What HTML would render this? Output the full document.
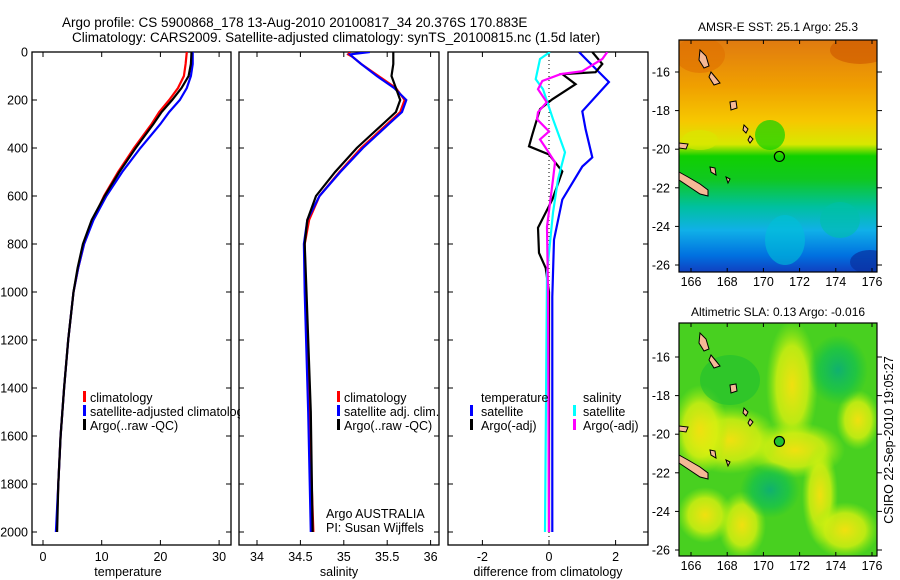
<!DOCTYPE html>
<html><head><meta charset="utf-8"><style>
body{margin:0;background:#fff;}
svg{display:block;font-family:"Liberation Sans",sans-serif;}
</style></head><body>
<svg id="fig" width="900" height="580" viewBox="0 0 900 580">
<defs>
<clipPath id="c1"><rect x="32" y="52" width="199" height="493"/></clipPath>
<clipPath id="c2"><rect x="239" y="52" width="200" height="493"/></clipPath>
<clipPath id="c3"><rect x="448" y="52" width="200" height="493"/></clipPath>
<clipPath id="cl1"><rect x="32" y="380" width="208" height="60"/></clipPath>
<clipPath id="m1"><rect x="679" y="40" width="198" height="232"/></clipPath>
<clipPath id="m2"><rect x="679" y="323" width="198" height="233"/></clipPath>
<linearGradient id="sst" x1="0" y1="0" x2="0" y2="1">
<stop offset="0" stop-color="#e07a10"/><stop offset="0.2" stop-color="#f0a000"/><stop offset="0.35" stop-color="#f6c800"/>
<stop offset="0.45" stop-color="#d8e800"/><stop offset="0.5" stop-color="#10d000"/><stop offset="0.6" stop-color="#10c820"/>
<stop offset="0.72" stop-color="#00c0a0"/><stop offset="0.82" stop-color="#10b0e8"/><stop offset="0.93" stop-color="#0070e0"/><stop offset="1" stop-color="#1040c0"/>
</linearGradient>
<radialGradient id="yb"><stop offset="0" stop-color="#f0e010"/><stop offset="0.6" stop-color="#d8f010" stop-opacity="0.8"/><stop offset="1" stop-color="#a0f010" stop-opacity="0"/></radialGradient>
<radialGradient id="gb"><stop offset="0" stop-color="#10b070"/><stop offset="0.6" stop-color="#10c050" stop-opacity="0.7"/><stop offset="1" stop-color="#10c040" stop-opacity="0"/></radialGradient>
</defs>

<text x="62" y="27" font-size="13.5">Argo profile: CS 5900868_178 13-Aug-2010 20100817_34 20.376S 170.883E</text>
<text x="72" y="42" font-size="13.5">Climatology: CARS2009. Satellite-adjusted climatology: synTS_20100815.nc (1.5d later)</text>

<g id="axes"></g>
<g id="series"></g>

<g font-size="12.5">
<g clip-path="url(#cl1)">
<rect x="83" y="391" width="3" height="11" fill="#f00"/><text x="90" y="402">climatology</text>
<rect x="83" y="405" width="3" height="11" fill="#00f"/><text x="90" y="416">satellite-adjusted climatology</text>
<rect x="83" y="419" width="3" height="11" fill="#000"/><text x="90" y="430">Argo(..raw -QC)</text>
</g></g>
<g font-size="12.5">
<rect x="337" y="391" width="3" height="11" fill="#f00"/><text x="344" y="402">climatology</text>
<rect x="337" y="405" width="3" height="11" fill="#00f"/><text x="344" y="416">satellite adj. clim.</text>
<rect x="337" y="419" width="3" height="11" fill="#000"/><text x="344" y="430">Argo(..raw -QC)</text>
<text x="326" y="518">Argo AUSTRALIA</text>
<text x="326" y="532">PI: Susan Wijffels</text>
</g>
<g font-size="12.5">
<text x="481" y="402">temperature</text>
<rect x="470" y="405" width="3" height="11" fill="#00f"/><text x="481" y="416">satellite</text>
<rect x="470" y="419" width="3" height="11" fill="#000"/><text x="481" y="430">Argo(-adj)</text>
<text x="583" y="402">salinity</text>
<rect x="573" y="405" width="3" height="11" fill="#0ff"/><text x="583" y="416">satellite</text>
<rect x="573" y="419" width="3" height="11" fill="#f0f"/><text x="583" y="430">Argo(-adj)</text>
</g>

<text x="778" y="31" font-size="12" text-anchor="middle">AMSR-E SST: 25.1 Argo: 25.3</text>
<g clip-path="url(#m1)">
<rect x="679" y="40" width="198" height="232" fill="url(#sst)"/>
<ellipse cx="860" cy="50" rx="30" ry="14" fill="#d05c00" opacity="0.7"/>
<ellipse cx="700" cy="55" rx="25" ry="18" fill="#e07000" opacity="0.6"/>
<ellipse cx="785" cy="240" rx="20" ry="25" fill="#00c0d8" opacity="0.6"/>
<ellipse cx="840" cy="220" rx="20" ry="18" fill="#00c0a8" opacity="0.6"/>
<ellipse cx="770" cy="135" rx="15" ry="15" fill="#10d000" opacity="0.7"/>
<ellipse cx="700" cy="140" rx="18" ry="10" fill="#d8e800" opacity="0.6"/>
<ellipse cx="870" cy="262" rx="20" ry="12" fill="#0830a0" opacity="0.7"/>
</g>
<g id="map1ov"></g>

<text x="778" y="316" font-size="12" text-anchor="middle">Altimetric SLA: 0.13 Argo: -0.016</text>
<g clip-path="url(#m2)">
<rect x="679" y="323" width="198" height="233" fill="#48d020"/>
<ellipse cx="792" cy="385" rx="26" ry="65" fill="url(#yb)"/>
<ellipse cx="795" cy="450" rx="50" ry="28" fill="url(#yb)"/>
<ellipse cx="730" cy="440" rx="50" ry="34" fill="url(#yb)"/>
<ellipse cx="700" cy="430" rx="28" ry="45" fill="url(#yb)"/>
<ellipse cx="742" cy="525" rx="24" ry="34" fill="url(#yb)"/>
<ellipse cx="705" cy="515" rx="28" ry="28" fill="url(#yb)"/>
<ellipse cx="820" cy="495" rx="18" ry="50" fill="url(#yb)"/>
<ellipse cx="845" cy="530" rx="34" ry="28" fill="url(#yb)"/>
<ellipse cx="858" cy="420" rx="22" ry="30" fill="url(#yb)"/>
<ellipse cx="770" cy="490" rx="30" ry="28" fill="url(#gb)"/>
<ellipse cx="838" cy="370" rx="30" ry="35" fill="url(#gb)"/>
<ellipse cx="730" cy="380" rx="30" ry="25" fill="#20c030" opacity="0.6"/>
</g>
<g id="map2ov"></g>

<text transform="translate(893,440) rotate(-90)" font-size="12.5" text-anchor="middle">CSIRO 22-Sep-2010 19:05:27</text>

<script>
const tempDepth = [0,50,100,150,200,250,300,400,500,600,700,800,900,1000,1200,1400,1600,1800,2000];
const tempClim  = [24.5,24.3,24.0,23.0,21.5,19.8,18.5,15.5,12.8,10.4,8.5,7.0,6.0,5.2,4.3,3.6,3.0,2.6,2.3];
const tempSat   = [25.5,25.5,25.2,24.5,23.3,21.5,20.0,16.6,13.5,10.8,8.6,7.0,6.0,5.2,4.3,3.6,3.0,2.6,2.2];
const tempArgo  = [25.3,25.2,24.8,23.6,22.0,20.2,18.8,15.8,13.0,10.5,8.3,6.8,5.9,5.2,4.3,3.6,3.0,2.6,2.4];
const salDepth  = [0,10,20,50,100,150,200,250,300,350,400,500,600,700,800,1000,1500,2000];
const salClim   = [35.07,35.05,35.1,35.2,35.4,35.6,35.7,35.65,35.5,35.35,35.2,34.95,34.72,34.6,34.55,34.56,34.6,34.65];
const salSat    = [35.3,35.07,35.1,35.2,35.38,35.58,35.72,35.67,35.52,35.37,35.22,34.96,34.72,34.58,34.54,34.55,34.59,34.62];
const salArgo   = [35.57,35.57,35.57,35.57,35.55,35.6,35.65,35.6,35.45,35.3,35.15,34.9,34.68,34.58,34.55,34.57,34.62,34.64];
const dtSatDepth = [0,42,125,247,322,439,477,615,782,1020,2000];
const dtSat      = [0.9,1.2,1.8,1.0,1.1,1.3,1.0,0.4,0.15,0.1,0.1];
const dtArgoDepth = [0,50,84,92,134,197,238,343,393,427,498,615,732,837,900,1000,2000];
const dtArgo      = [1.3,1.6,1.4,0.4,0.8,0.1,-0.27,-0.5,-0.6,0.0,0.4,0.1,-0.33,-0.3,-0.1,0.0,0.0];
const dsSatDepth = [0,29,113,155,280,418,531,669,921,2000];
const dsSat      = [0.03,-0.27,-0.4,-0.18,0.12,0.48,0.27,0.12,-0.06,-0.12];
const dsArgoDepth = [0,29,80,92,121,155,209,251,280,331,364,406,460,531,728,1000,2000];
const dsArgo      = [1.75,1.6,1.0,0.35,-0.2,-0.33,-0.07,-0.33,-0.36,0,-0.27,-0.07,0.18,0.12,-0.06,-0.03,0.0];
const depthTicks = [0,200,400,600,800,1000,1200,1400,1600,1800,2000];
const tempTicks = [0,10,20,30];
const salTicks = ["34","34.5","35","35.5","36"];
const diffTicks = [-2,0,2];
const lonTicks = [166,168,170,172,174,176];
const latTicks = [-16,-18,-20,-22,-24,-26];

const NS="http://www.w3.org/2000/svg";
const yD = d => 52 + d*0.24;
const xT = v => 43 + v*5.87;
const xS = v => 257 + (v-34)*86.8;
const xDf = v => 549 + v*33.3;
const axes=document.getElementById('axes'), ser=document.getElementById('series');
function mk(tag, at, parent){const e=document.createElementNS(NS,tag);for(const k in at)e.setAttribute(k,at[k]);parent.appendChild(e);return e;}

const panels=[{x:32,w:199,n:'temperature',xs:xT,ticks:tempTicks,label:'temperature',cx:128},
 {x:239,w:200,n:'salinity',xs:xS,ticks:salTicks,label:'salinity',cx:339},
 {x:448,w:200,n:'difference',xs:xDf,ticks:diffTicks,label:'difference from climatology',cx:548}];
panels.forEach((p,i)=>{
  const r=mk('rect',{x:p.x,y:52,width:p.w,height:493,fill:'none',stroke:'#000','stroke-width':1.3},axes);
  
  
  depthTicks.forEach(d=>{
    mk('line',{x1:p.x,x2:p.x+5,y1:yD(d),y2:yD(d),stroke:'#000'},axes);
    mk('line',{x1:p.x+p.w-5,x2:p.x+p.w,y1:yD(d),y2:yD(d),stroke:'#000'},axes);
    if(i===0){const t=mk('text',{x:28,y:yD(d)+4.5,'font-size':12.5,'text-anchor':'end'},axes);t.textContent=d;
      
      }
  });
  p.ticks.forEach(v=>{
    const x=p.xs(+v);
    mk('line',{x1:x,x2:x,y1:52,y2:57,stroke:'#000'},axes);
    mk('line',{x1:x,x2:x,y1:540,y2:545,stroke:'#000'},axes);
    const t=mk('text',{x:x,y:561,'font-size':12.5,'text-anchor':'middle'},axes);t.textContent=v;
    
    
  });
  const l=mk('text',{x:p.cx,y:576,'font-size':12.5,'text-anchor':'middle'},axes);l.textContent=p.label;
  
  
});
mk('line',{x1:549,x2:549,y1:52,y2:545,stroke:'#000','stroke-dasharray':'1,3'},axes);

function line(depths, vals, xs, color, clip, name){
  const pts=depths.map((d,i)=>xs(vals[i]).toFixed(1)+','+yD(d).toFixed(1)).join(' ');
  const e=mk('polyline',{points:pts,fill:'none',stroke:color,'stroke-width':2.2,'clip-path':'url(#'+clip+')'},ser);
  
  
}
line(tempDepth,tempClim,xT,'#f00','c1','temp-climatology-line');
line(tempDepth,tempSat,xT,'#00f','c1','temp-satellite-line');
line(tempDepth,tempArgo,xT,'#000','c1','temp-argo-line');
line(salDepth,salClim,xS,'#f00','c2','sal-climatology-line');
line(salDepth,salSat,xS,'#00f','c2','sal-satellite-line');
line(salDepth,salArgo,xS,'#000','c2','sal-argo-line');
line(dtSatDepth,dtSat,xDf,'#00f','c3','temp-diff-satellite-line');
line(dtArgoDepth,dtArgo,xDf,'#000','c3','temp-diff-argo-line');
line(dsSatDepth,dsSat,xDf,'#0ff','c3','sal-diff-satellite-line');
line(dsArgoDepth,dsArgo,xDf,'#f0f','c3','sal-diff-argo-line');

function mapAxes(gid, top, bottom, y16, y26, circleFill, prefix){
  const g=document.getElementById(gid);
  const xL = lon => 691 + (lon-166)*18.1;
  const yL = lat => y16 + (-16-lat)*(y26-y16)/10;
  const isl=[[[679,172],[688,177],[700,184],[708,190],[708,196],[700,194],[688,186],[679,180]],
    [[700,50],[706,56],[709,66],[704,68],[699,60]],[[711,72],[716,78],[720,83],[714,85],[709,77]],
    [[730,102],[736,101],[737,108],[731,110]],[[744,125],[748,129],[746,133],[743,130]],
    [[750,136],[753,139],[750,143],[748,140]],[[679,143],[688,144],[686,149],[679,148]],
    [[710,167],[715,168],[716,175],[711,172]],[[726,177],[730,179],[728,183]]];
  const off = top-40;
  isl.forEach(poly=>{
    const e=mk('polygon',{points:poly.map(p=>p[0]+','+(p[1]+off)).join(' '),fill:'#f5b896',stroke:'#000','stroke-width':1},g);
    
    
  });
  const c=mk('circle',{cx:xL(170.883),cy:yL(-20.376),r:5,fill:circleFill,stroke:'#000','stroke-width':1.2},g);
  
  
  const fr=mk('rect',{x:679,y:top,width:198,height:bottom-top,fill:'none',stroke:'#000','stroke-width':1.2},g);
  
  
  lonTicks.forEach(lon=>{const x=xL(lon);
    mk('line',{x1:x,x2:x,y1:top,y2:top+4,stroke:'#000'},g);
    mk('line',{x1:x,x2:x,y1:bottom-4,y2:bottom,stroke:'#000'},g);
    const t=mk('text',{x:x,y:bottom+14,'font-size':12.5,'text-anchor':'middle'},g);t.textContent=lon;
    
    });
  latTicks.forEach(lat=>{const y=yL(lat);
    mk('line',{x1:679,x2:675,y1:y,y2:y,stroke:'#000'},g);
    mk('line',{x1:877,x2:882,y1:y,y2:y,stroke:'#000'},g);
    const t=mk('text',{x:670,y:y+4.5,'font-size':12.5,'text-anchor':'end'},g);t.textContent=lat;
    
    });
}
mapAxes('map1ov',40,272,72,265,'none','sst');
mapAxes('map2ov',323,556,357,550,'#20c030','sla');
</script>
</svg>
</body></html>
